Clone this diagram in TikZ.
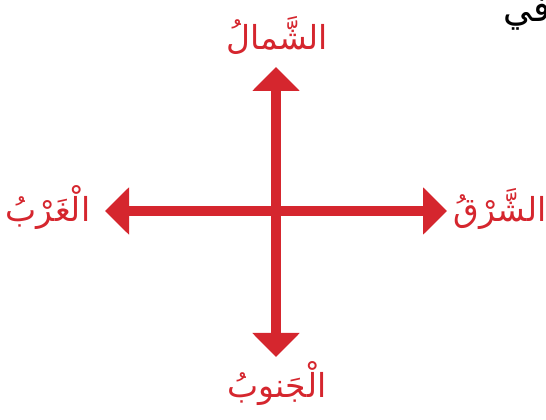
\documentclass[tikz,border=0pt]{standalone}
\usepackage{fontspec}
\newfontfamily\arabicfont[Script=Arabic]{DejaVu Sans}
\TeXXeTstate=1
\usetikzlibrary{arrows.meta}
\definecolor{dirred}{RGB}{213,38,46}
\begin{document}
\begin{tikzpicture}[x=1pt,y=1pt,
  dirarrow/.style={draw=dirred,line width=10pt,
    -{Triangle[width=46pt,length=24pt]}},
  dirlabel/.style={text=dirred,font=\arabicfont\fontsize{33}{40}\selectfont,inner sep=0pt,anchor=base},
  fraglabel/.style={text=black,font=\arabicfont\fontsize{36}{43}\selectfont,inner sep=0pt,anchor=base west}]
\useasboundingbox (0,0) rectangle (546,420);
\clip (0,0) rectangle (546,420);
\coordinate (c) at (276,209);
\coordinate (n) at (276,353);
\coordinate (s) at (276,63);
\coordinate (w) at (105,209);
\coordinate (e) at (447,209);
\draw[dirarrow] (c) -- (n);
\draw[dirarrow] (c) -- (s);
\draw[dirarrow] (c) -- (w);
\draw[dirarrow] (c) -- (e);
\node[dirlabel] (ln) at (277,370) {\beginR الشَّمالُ\endR};
\node[dirlabel] (lw) at (48,198) {\beginR الْغَرْبُ\endR};
\node[dirlabel] (le) at (500,198) {\beginR الشَّرْقُ\endR};
\node[dirlabel] (ls) at (277,22) {\beginR الْجَنوبُ\endR};
\node[fraglabel] (ft) at (503,398) {\beginR في\endR};
\end{tikzpicture}
\end{document}
